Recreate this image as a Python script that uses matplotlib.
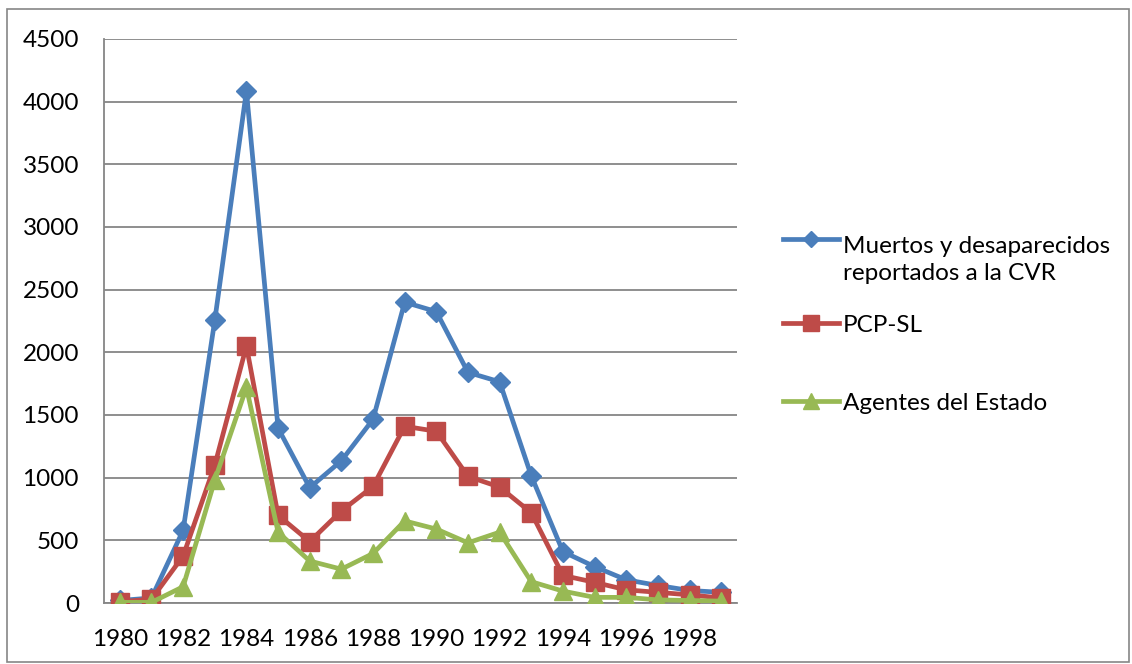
import matplotlib
matplotlib.use("Agg")
import matplotlib.pyplot as plt
from matplotlib.legend_handler import HandlerLine2D
from matplotlib.patches import Rectangle
from matplotlib.transforms import Affine2D

years = list(range(1980, 2000))
muertos = [20, 40, 580, 2255, 4085, 1395, 920, 1135, 1465, 2400, 2325, 1840, 1765, 1015,
           410, 290, 185, 140, 100, 85]
pcp_sl = [10, 30, 375, 1100, 2050, 700, 490, 735, 930, 1410, 1370, 1010, 925, 720,
          220, 165, 105, 85, 65, 40]
agentes = [5, 5, 130, 980, 1720, 565, 335, 270, 395, 655, 590, 480, 565, 170,
           95, 45, 45, 25, 20, 15]
labels = ["Muertos y desaparecidos\nreportados a la CVR", "PCP-SL", "Agentes del Estado"]
yticks = [0, 500, 1000, 1500, 2000, 2500, 3000, 3500, 4000, 4500]

BLUE = "#4a7ebb"
RED = "#be4b48"
GREEN = "#98b954"
GRID = "#868686"
FONT = ["Lato", "DejaVu Sans"]
FS = 17.5


class TopHandler(HandlerLine2D):
    # excel puts the marker next to the first line of a wrapped label
    def __init__(self, shift, **kw):
        super().__init__(**kw)
        self.shift = shift

    def create_artists(self, legend, orig_handle, xdescent, ydescent, width, height,
                       fontsize, trans):
        arts = super().create_artists(legend, orig_handle, xdescent, ydescent, width,
                                      height, fontsize, trans)
        for a in arts:
            a.set_transform(Affine2D().translate(0, self.shift) + trans)
        return arts


plt.rcParams["font.family"] = FONT
fig = plt.figure(figsize=(11.32, 6.64), dpi=100)
ax = fig.add_axes([104 / 1132, 1 - 603 / 664, (737 - 104) / 1132, (603 - 39) / 664])

x = list(range(len(years)))
l1, = ax.plot(x, muertos, color=BLUE, lw=3.4, marker="D", ms=10, mec=BLUE, zorder=3)
l2, = ax.plot(x, pcp_sl, color=RED, lw=3.4, marker="s", ms=13, mec=RED, zorder=4)
l3, = ax.plot(x, agentes, color=GREEN, lw=3.4, marker="^", ms=13.5, mec=GREEN, zorder=5)

ax.set_xlim(-0.5, len(years) - 0.5)
ax.set_ylim(0, 4500)
ax.set_yticks(yticks)
ax.set_xticks(x[::2])
ax.set_xticklabels([str(y) for y in years[::2]])
ax.tick_params(axis="both", length=0, labelsize=FS)
ax.tick_params(axis="y", pad=18)
ax.tick_params(axis="x", pad=19)
ax.yaxis.grid(True, color=GRID, lw=1.3)
ax.set_axisbelow(True)
for s in ["top", "right"]:
    ax.spines[s].set_visible(False)
for s in ["left", "bottom"]:
    ax.spines[s].set_color(GRID)
    ax.spines[s].set_linewidth(1.3)

legend_y = [1 - 260 / 664, 1 - 325 / 664, 1 - 403 / 664]
for ln, lab, ly in zip([l1, l2, l3], labels, legend_y):
    hmap = {ln: TopHandler(15)} if "\n" in lab else None
    leg = ax.legend([ln], [lab], loc="center left", bbox_to_anchor=(783 / 1132, ly),
                    bbox_transform=fig.transFigure, frameon=False, borderpad=0,
                    borderaxespad=0, handlelength=2.3, handletextpad=0.17,
                    markerscale=0.85, fontsize=FS, handler_map=hmap)
    for t in leg.get_texts():
        t.set_linespacing(1.3)
    ax.add_artist(leg)
ax.legend_ = None

fig.patches.append(Rectangle((7 / 1132, 2 / 664), 1122 / 1132, 653 / 664,
                             transform=fig.transFigure, fill=False, ec=GRID, lw=1.2))

fig.savefig("out.png", dpi=100)
